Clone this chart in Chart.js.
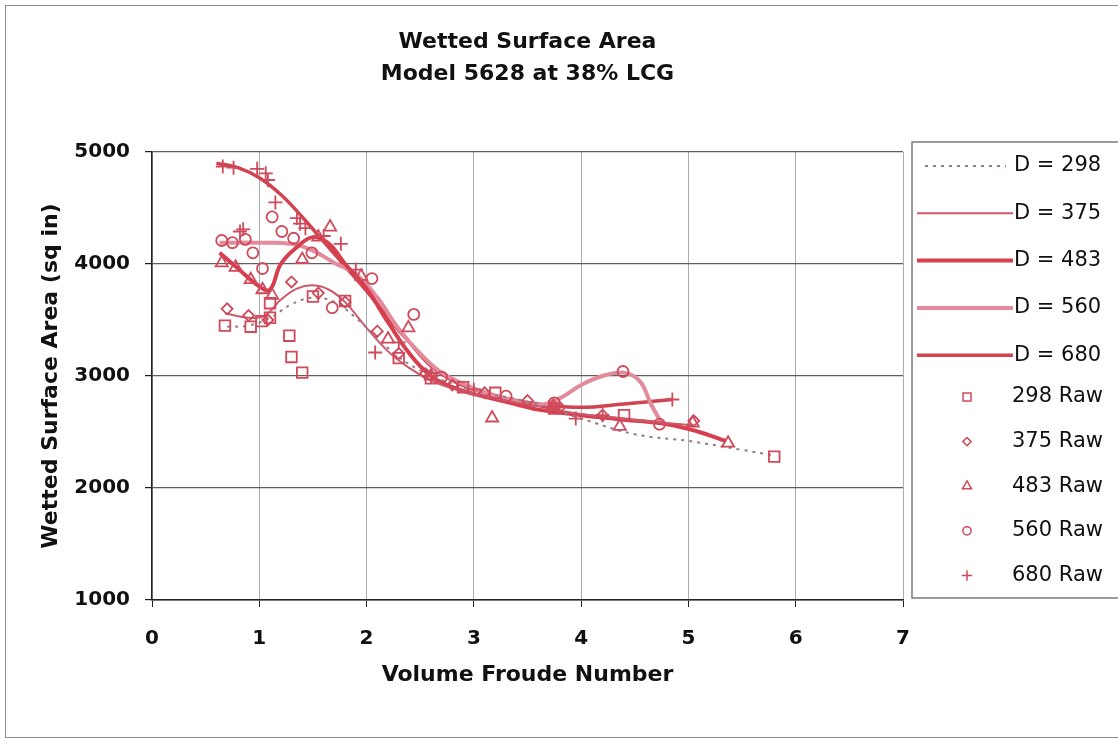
<!DOCTYPE html>
<html>
<head>
<meta charset="utf-8">
<script src="https://cdn.jsdelivr.net/npm/chart.js@4.4.1/dist/chart.umd.min.js"></script>
<style>
  html, body { margin: 0; padding: 0; background: #fff; }
  #wrap { position: relative; width: 1118px; height: 741px; overflow: hidden; }
  #marco { position: absolute; left: 5px; top: 5px; width: 1130px; height: 731px;
           border: 1px solid #8c8c8c; pointer-events: none; }
</style>
</head>
<body>
<div id="wrap">
  <canvas id="grafico" width="1118" height="741" style="width:1118px;height:741px"></canvas>
  <div id="marco"></div>
</div>
<script>
/* ── Datos ──────────────────────────────────────────────── */

const xTicks = [0, 1, 2, 3, 4, 5, 6, 7];
const yTicks = [1000, 2000, 3000, 4000, 5000];

// curvas ajustadas
const fit298X = [0.7, 0.9, 1.1, 1.3, 1.5, 1.7, 1.9, 2.1, 2.3, 2.5, 2.8, 3.1, 3.5, 4.0, 4.5, 5.0, 5.5, 5.8];
const fit298Y = [3440, 3450, 3520, 3640, 3700, 3660, 3520, 3340, 3170, 3050, 2930, 2850, 2770, 2620, 2480, 2420, 2340, 2290];

const fit375X = [0.68, 0.9, 1.05, 1.2, 1.35, 1.5, 1.65, 1.8, 2.0, 2.2, 2.4, 2.6, 2.8, 3.0, 3.3, 3.6, 4.0, 4.4, 4.8, 5.05];
const fit375Y = [3560, 3520, 3540, 3680, 3780, 3810, 3770, 3660, 3430, 3220, 3070, 2960, 2890, 2840, 2780, 2730, 2660, 2620, 2580, 2560];

const fit483X = [0.63, 0.8, 1.0, 1.1, 1.2, 1.35, 1.5, 1.65, 1.8, 2.0, 2.2, 2.4, 2.6, 2.8, 3.0, 3.3, 3.6, 4.0, 4.4, 4.8, 5.1, 5.35];
const fit483Y = [4100, 3960, 3800, 3770, 4000, 4150, 4240, 4180, 4000, 3780, 3480, 3200, 3000, 2900, 2840, 2770, 2700, 2650, 2610, 2570, 2500, 2420];

const fit560X = [0.63, 1.0, 1.3, 1.5, 1.7, 1.9, 2.1, 2.3, 2.5, 2.7, 3.0, 3.3, 3.6, 3.8, 4.0, 4.2, 4.4, 4.55, 4.65, 4.75];
const fit560Y = [4190, 4190, 4180, 4120, 4010, 3910, 3700, 3420, 3200, 3030, 2890, 2800, 2740, 2800, 2920, 3000, 3030, 2950, 2750, 2580];

const fit680X = [0.6, 0.8, 1.0, 1.2, 1.4, 1.6, 1.8, 2.0, 2.2, 2.4, 2.6, 2.8, 3.0, 3.3, 3.6, 4.0, 4.4, 4.85];
const fit680Y = [4900, 4860, 4770, 4620, 4420, 4200, 3980, 3760, 3520, 3300, 3090, 2960, 2880, 2800, 2750, 2720, 2750, 2790];

// puntos medidos
const raw298X = [0.68, 0.92, 1.02, 1.1, 1.1, 1.28, 1.3, 1.4, 1.5, 1.8, 2.3, 2.6, 2.9, 3.2, 3.75, 4.4, 5.8];
const raw298Y = [3450, 3440, 3490, 3520, 3650, 3360, 3170, 3030, 3710, 3670, 3160, 2980, 2900, 2850, 2710, 2650, 2280];

const raw375X = [0.7, 0.9, 1.08, 1.3, 1.55, 1.8, 2.1, 2.3, 2.55, 2.8, 3.1, 3.5, 3.8, 4.2, 5.05];
const raw375Y = [3600, 3540, 3500, 3840, 3740, 3660, 3400, 3200, 3020, 2920, 2850, 2780, 2720, 2650, 2600];

const raw483X = [0.65, 0.78, 0.92, 1.03, 1.12, 1.4, 1.55, 1.66, 1.95, 2.2, 2.39, 2.6, 3.17, 3.74, 4.36, 5.04, 5.37];
const raw483Y = [4010, 3970, 3860, 3770, 3720, 4040, 4240, 4330, 3890, 3330, 3430, 3000, 2625, 2730, 2550, 2580, 2400];

const raw560X = [0.65, 0.75, 0.87, 0.94, 1.03, 1.12, 1.21, 1.32, 1.49, 1.68, 2.05, 2.44, 2.7, 3.3, 3.75, 4.39, 4.73];
const raw560Y = [4210, 4190, 4220, 4100, 3960, 4420, 4290, 4230, 4100, 3610, 3870, 3550, 2990, 2820, 2760, 3040, 2570];

const raw680X = [0.66, 0.76, 0.82, 0.85, 0.98, 1.06, 1.08, 1.15, 1.35, 1.38, 1.43, 1.6, 1.76, 1.9, 2.08, 2.3, 2.6, 3.0, 3.7, 3.95, 4.2, 4.85];
const raw680Y = [4870, 4860, 4290, 4310, 4850, 4810, 4750, 4550, 4410, 4360, 4320, 4250, 4180, 3950, 3210, 3300, 3000, 2880, 2720, 2620, 2650, 2790];

/* ── Helpers ───────────────────────────────────────────── */

const FUENTE = "'DejaVu Sans', sans-serif";
const ROJO = "#cf4a5a";

function puntos(xs, ys) {
  return xs.map((x, i) => ({ x: x, y: ys[i] }));
}

function curva(label, xs, ys, color, ancho, dash) {
  return {
    label: label,
    data: puntos(xs, ys),
    showLine: true,
    borderColor: color,
    borderWidth: ancho,
    borderDash: dash || [],
    pointRadius: 0,
    pointHoverRadius: 0,
    tension: 0.4,
    fill: false,
    order: 2,
  };
}

function crudos(label, xs, ys, estilo, radio) {
  return {
    label: label,
    data: puntos(xs, ys),
    showLine: false,
    pointStyle: estilo,
    pointRadius: radio,
    pointBorderWidth: 1.8,
    borderColor: ROJO,
    backgroundColor: "rgba(255,255,255,0)",
    order: 1,
  };
}

/* ── Leyenda y título dibujados a mano ───────────────────── */

const leyendaCaja = {
  id: "leyendaCaja",
  afterDraw(chart) {
    const ctx = chart.ctx;
    const area = chart.chartArea;
    ctx.save();

    // título en dos líneas, centrado sobre el área del gráfico
    ctx.fillStyle = "#111";
    ctx.font = "bold 22px " + FUENTE;
    ctx.textAlign = "center";
    ctx.textBaseline = "middle";
    const cx = (area.left + area.right) / 2;
    ctx.fillText("Wetted Surface Area", cx, 42);
    ctx.fillText("Model 5628 at 38% LCG", cx, 74);

    // caja
    ctx.strokeStyle = "#7a7a7a";
    ctx.lineWidth = 1.5;
    ctx.strokeRect(912, 142, 240, 456);

    ctx.font = "21px " + FUENTE;
    ctx.textAlign = "left";
    const sets = chart.data.datasets;
    sets.forEach((ds, i) => {
      ctx.fillStyle = "#111";
      if (ds.showLine) {
        const y = 166 + i * 47.3;
        ctx.strokeStyle = ds.borderColor;
        ctx.lineWidth = ds.borderWidth;
        ctx.setLineDash(ds.borderDash);
        ctx.beginPath();
        ctx.moveTo(ds.borderDash.length ? 925 : 917, y);
        ctx.lineTo(ds.borderDash.length ? 1006 : 1013, y);
        ctx.stroke();
        ctx.setLineDash([]);
        ctx.fillText(ds.label, 1014, y);
      } else {
        const y = 397 + (i - 5) * 44.6;
        ctx.strokeStyle = ROJO;
        ctx.fillStyle = "rgba(255,255,255,0)";
        ctx.lineWidth = 1.5;
        Chart.helpers.drawPoint(ctx, { pointStyle: ds.pointStyle, radius: ds.pointRadius * 0.75, borderWidth: 1.5 }, 967, y);
        ctx.fillStyle = "#111";
        ctx.fillText(ds.label, 1012, y);
      }
    });
    ctx.restore();
  },
};

/* ── Gráfico ───────────────────────────────────────────── */

new Chart(document.getElementById("grafico"), {
  type: "scatter",
  data: {
    datasets: [
      curva("D = 298", fit298X, fit298Y, "#957a8b", 2, [3, 5]),
      curva("D = 375", fit375X, fit375Y, "#cc5a6c", 2),
      curva("D = 483", fit483X, fit483Y, "#d83f4e", 4),
      curva("D = 560", fit560X, fit560Y, "#e38a9c", 4),
      curva("D = 680", fit680X, fit680Y, "#d0434f", 3.5),
      crudos("298 Raw", raw298X, raw298Y, "rect", 7.5),
      crudos("375 Raw", raw375X, raw375Y, "rectRot", 5.5),
      crudos("483 Raw", raw483X, raw483Y, "triangle", 7),
      crudos("560 Raw", raw560X, raw560Y, "circle", 5.5),
      crudos("680 Raw", raw680X, raw680Y, "cross", 7),
    ],
  },
  options: {
    responsive: false,
    animation: false,
    layout: { padding: { left: 0, right: 215, top: 152, bottom: 41 } },
    plugins: {
      legend: { display: false },
      title: { display: false },
      tooltip: { enabled: false },
    },
    scales: {
      x: {
        type: "linear",
        min: 0,
        max: 7,
        afterBuildTicks: (scale) => { scale.ticks = xTicks.map(v => ({ value: v })); },
        afterFit: (scale) => { scale.height = 100; },
        grid: { color: "#a7adb5", lineWidth: 1, tickColor: "#222", tickLength: 7 },
        border: { color: "#222", width: 1.5 },
        ticks: { font: { family: FUENTE, size: 20, weight: "bold" }, color: "#111", padding: 20 },
        title: {
          display: true,
          text: "Volume Froude Number",
          font: { family: FUENTE, size: 22, weight: "bold" },
          color: "#111",
          padding: { top: 0, bottom: 12 },
        },
      },
      y: {
        min: 1000,
        max: 5000,
        afterBuildTicks: (scale) => { scale.ticks = yTicks.map(v => ({ value: v })); },
        afterFit: (scale) => { scale.width = 152; },
        grid: { color: "#5e5e5e", lineWidth: 1.2, tickColor: "#222", tickLength: 7 },
        border: { color: "#222", width: 1.5 },
        ticks: {
          font: { family: FUENTE, size: 20, weight: "bold" },
          color: "#111",
          padding: 15,
          callback: (v) => String(v),
        },
        title: {
          display: true,
          text: "Wetted Surface Area (sq in)",
          font: { family: FUENTE, size: 22, weight: "bold" },
          color: "#111",
          padding: { top: 38, bottom: 0 },
        },
      },
    },
  },
  plugins: [leyendaCaja],
});
</script>
</body>
</html>
